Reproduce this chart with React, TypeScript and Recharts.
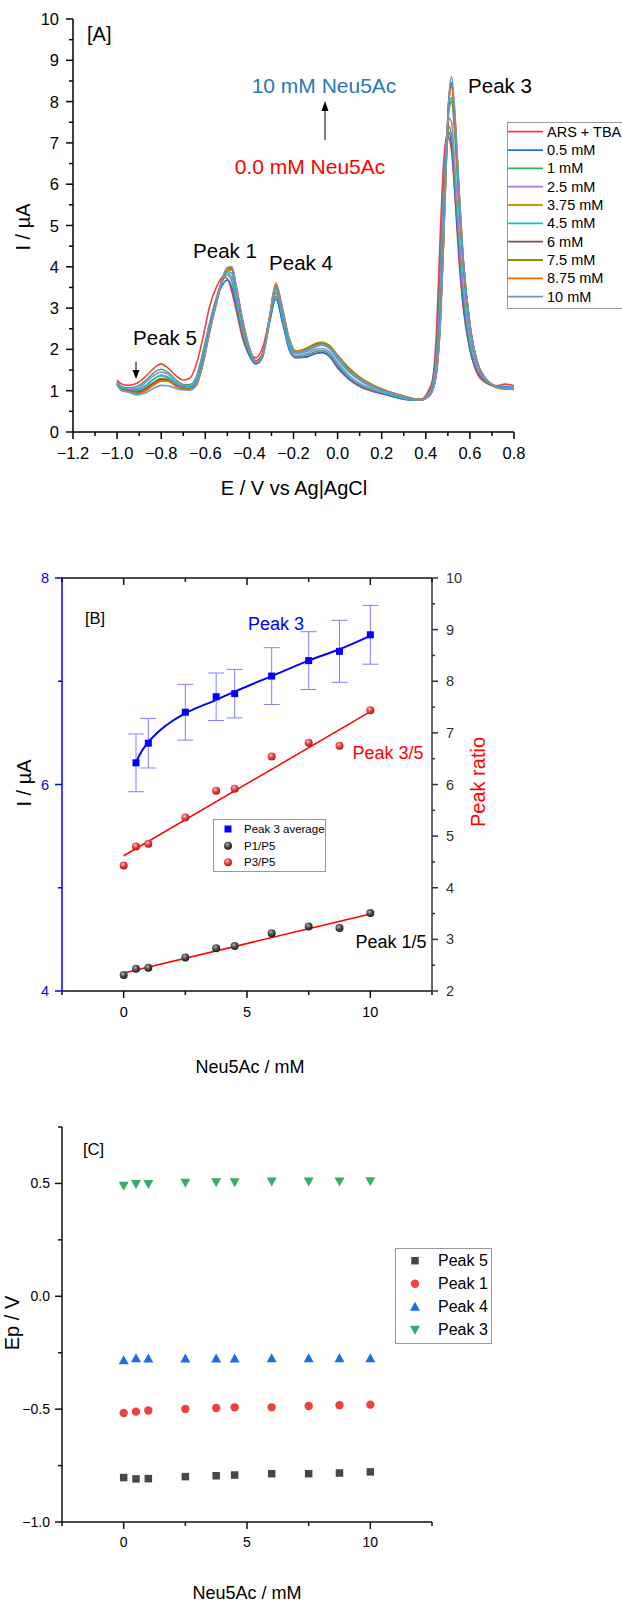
import React from "react";
import { LineChart, ComposedChart, Line, Scatter, XAxis, YAxis, ErrorBar } from "recharts";

const FONT = "'Liberation Sans', Arial, Helvetica, sans-serif";

// ---------- [A] DPV curves (I / uA vs E / V) ----------
const E_V = [
  -1.0, -0.98, -0.95, -0.91, -0.87, -0.83, -0.8, -0.77, -0.73, -0.7,
  -0.67, -0.64, -0.61, -0.58, -0.55, -0.52, -0.5, -0.48, -0.46, -0.43,
  -0.4, -0.37, -0.34, -0.31, -0.28, -0.25, -0.22, -0.19, -0.14, -0.1,
  -0.07, -0.04, 0.0, 0.05, 0.1, 0.16, 0.22, 0.28, 0.34, 0.38,
  0.41, 0.43, 0.45, 0.465, 0.48, 0.495, 0.505, 0.517, 0.53, 0.55,
  0.57, 0.6, 0.63, 0.67, 0.72, 0.76, 0.8,
];

const I_ARS = [
  1.26, 1.16, 1.13, 1.18, 1.35, 1.56, 1.65, 1.55, 1.35, 1.26,
  1.3, 1.65, 2.3, 3.05, 3.5, 3.75, 3.72, 3.4, 2.95, 2.25,
  1.88, 1.8, 2.05, 2.7, 3.28, 2.7, 2.05, 1.8, 1.82, 1.9,
  1.93, 1.85, 1.55, 1.28, 1.1, 0.98, 0.9, 0.82, 0.78, 0.8,
  0.98, 1.25, 2.6, 4.7, 6.45, 7.18, 7.1, 6.8, 5.9, 4.2,
  3.0, 2.0, 1.45, 1.2, 1.12, 1.16, 1.12,
];
const I_05 = [
  1.2, 1.08, 1.04, 1.02, 1.12, 1.3, 1.37, 1.32, 1.17, 1.1,
  1.1, 1.3, 1.9, 2.6, 3.2, 3.58, 3.68, 3.5, 3.05, 2.35,
  1.85, 1.65, 1.82, 2.6, 3.22, 2.65, 2.0, 1.8, 1.82, 1.9,
  1.92, 1.85, 1.58, 1.3, 1.12, 1.0, 0.9, 0.82, 0.77, 0.78,
  0.9, 1.2, 2.1, 3.8, 5.8, 7.0, 7.25, 6.95, 6.0, 4.4,
  3.1, 2.0, 1.5, 1.22, 1.1, 1.1, 1.08,
];
const I_1 = [
  1.22, 1.1, 1.07, 1.1, 1.25, 1.45, 1.52, 1.45, 1.25, 1.15,
  1.15, 1.35, 1.95, 2.65, 3.25, 3.68, 3.8, 3.65, 3.15, 2.4,
  1.9, 1.7, 1.88, 2.65, 3.35, 2.75, 2.05, 1.82, 1.86, 1.95,
  1.97, 1.9, 1.62, 1.33, 1.14, 1.01, 0.92, 0.84, 0.78, 0.79,
  0.9, 1.15, 2.0, 3.6, 5.7, 7.0, 7.4, 7.15, 6.2, 4.6,
  3.3, 2.1, 1.55, 1.25, 1.1, 1.08, 1.07,
];
const I_25 = [
  1.2, 1.08, 1.04, 1.05, 1.2, 1.38, 1.45, 1.4, 1.2, 1.12,
  1.12, 1.3, 1.88, 2.6, 3.2, 3.7, 3.85, 3.75, 3.25, 2.5,
  1.95, 1.72, 1.9, 2.7, 3.4, 2.8, 2.1, 1.85, 1.9, 2.0,
  2.02, 1.95, 1.68, 1.38, 1.18, 1.04, 0.94, 0.85, 0.79, 0.79,
  0.88, 1.1, 1.85, 3.3, 5.4, 7.0, 7.6, 7.5, 6.6, 4.9,
  3.5, 2.25, 1.6, 1.27, 1.1, 1.08, 1.07,
];
const I_375 = [
  1.17, 1.04, 1.0, 0.97, 1.07, 1.22, 1.3, 1.28, 1.12, 1.06,
  1.05, 1.2, 1.75, 2.5, 3.15, 3.72, 3.92, 3.92, 3.45, 2.62,
  2.0, 1.7, 1.88, 2.7, 3.5, 2.9, 2.2, 1.92, 1.98, 2.1,
  2.14, 2.07, 1.8, 1.5, 1.28, 1.1, 0.98, 0.88, 0.8, 0.78,
  0.86, 1.02, 1.55, 2.7, 4.7, 7.0, 8.1, 8.45, 7.7, 5.8,
  4.1, 2.55, 1.75, 1.3, 1.1, 1.06, 1.05,
];
const I_45 = [
  1.18, 1.06, 1.02, 1.0, 1.12, 1.3, 1.37, 1.33, 1.16, 1.08,
  1.08, 1.24, 1.8, 2.55, 3.18, 3.7, 3.88, 3.85, 3.38, 2.58,
  1.98, 1.7, 1.88, 2.7, 3.45, 2.85, 2.15, 1.9, 1.95, 2.06,
  2.1, 2.03, 1.76, 1.46, 1.25, 1.08, 0.96, 0.86, 0.79, 0.78,
  0.86, 1.04, 1.65, 2.9, 5.0, 7.0, 7.9, 8.1, 7.35, 5.5,
  3.9, 2.45, 1.7, 1.3, 1.1, 1.07, 1.06,
];
const I_6 = [
  1.16, 1.03, 1.0, 0.96, 1.05, 1.2, 1.28, 1.26, 1.12, 1.06,
  1.04, 1.18, 1.72, 2.48, 3.15, 3.75, 3.97, 3.98, 3.5, 2.65,
  2.02, 1.72, 1.9, 2.72, 3.55, 2.95, 2.25, 1.95, 2.02, 2.13,
  2.16, 2.1, 1.85, 1.55, 1.32, 1.13, 1.0, 0.9, 0.81, 0.78,
  0.85, 1.0, 1.52, 2.6, 4.6, 6.95, 8.1, 8.45, 7.75, 5.9,
  4.15, 2.6, 1.75, 1.3, 1.1, 1.05, 1.04,
];
const I_75 = [
  1.15, 1.02, 0.98, 0.94, 1.02, 1.17, 1.25, 1.24, 1.1, 1.05,
  1.03, 1.15, 1.68, 2.45, 3.12, 3.72, 3.95, 3.95, 3.5, 2.65,
  2.02, 1.7, 1.88, 2.7, 3.5, 2.95, 2.25, 1.96, 2.03, 2.14,
  2.17, 2.1, 1.86, 1.56, 1.33, 1.14, 1.0, 0.9, 0.81, 0.78,
  0.85, 1.0, 1.55, 2.65, 4.6, 6.8, 7.8, 8.0, 7.4, 5.7,
  4.1, 2.6, 1.75, 1.3, 1.08, 1.04, 1.03,
];
const I_875 = [
  1.15, 1.02, 0.98, 0.93, 1.0, 1.15, 1.23, 1.23, 1.1, 1.04,
  1.02, 1.13, 1.66, 2.42, 3.1, 3.72, 3.97, 4.0, 3.55, 2.7,
  2.05, 1.72, 1.9, 2.75, 3.6, 3.0, 2.28, 1.95, 2.0, 2.1,
  2.13, 2.07, 1.84, 1.52, 1.3, 1.12, 0.99, 0.89, 0.8, 0.78,
  0.85, 1.0, 1.5, 2.55, 4.5, 6.85, 8.0, 8.35, 7.7, 5.9,
  4.15, 2.6, 1.75, 1.3, 1.08, 1.04, 1.04,
];
const I_10 = [
  1.15, 1.0, 0.97, 0.9, 0.95, 1.07, 1.13, 1.12, 1.05, 1.02,
  1.02, 1.18, 1.7, 2.45, 3.15, 3.75, 3.98, 4.0, 3.5, 2.68,
  2.02, 1.68, 1.85, 2.7, 3.55, 2.95, 2.25, 1.92, 1.98, 2.08,
  2.12, 2.05, 1.82, 1.5, 1.28, 1.1, 0.98, 0.88, 0.8, 0.78,
  0.85, 1.0, 1.5, 2.5, 4.5, 6.9, 8.1, 8.6, 7.9, 6.0,
  4.2, 2.6, 1.75, 1.3, 1.1, 1.05, 1.05,
];

const CURVES = [I_ARS, I_05, I_1, I_25, I_375, I_45, I_6, I_75, I_875, I_10];
const CURVE_NAMES = ["ARS + TBA", "0.5 mM", "1 mM", "2.5 mM", "3.75 mM", "4.5 mM", "6 mM", "7.5 mM", "8.75 mM", "10 mM"];
const CURVE_COLORS = ["#F14040", "#1A6FDF", "#37AD6B", "#B177DE", "#CC9900", "#00CBCC", "#7D4E4E", "#8E8E00", "#FB6501", "#6699CC"];

const A_XTICKS = [-1.2, -1.1, -1.0, -0.9, -0.8, -0.7, -0.6, -0.5, -0.4, -0.3, -0.2, -0.1, 0, 0.1, 0.2, 0.3, 0.4, 0.5, 0.6, 0.7, 0.8];
const A_YTICKS = [0, 0.5, 1, 1.5, 2, 2.5, 3, 3.5, 4, 4.5, 5, 5.5, 6, 6.5, 7, 7.5, 8, 8.5, 9, 9.5, 10];

// ---------- [B] peak currents and ratios ----------
const CONC = [0, 0.5, 1, 2.5, 3.75, 4.5, 6, 7.5, 8.75, 10];
const P3_CONC = [0.5, 1, 2.5, 3.75, 4.5, 6, 7.5, 8.75, 10];
const P3_AVG = [6.21, 6.4, 6.7, 6.85, 6.88, 7.05, 7.2, 7.29, 7.45];
const P3_ERR = [0.28, 0.24, 0.27, 0.23, 0.235, 0.275, 0.28, 0.3, 0.285];
const P1_P5 = [2.31, 2.43, 2.45, 2.65, 2.83, 2.87, 3.12, 3.25, 3.22, 3.51];
const P3_P5 = [4.43, 4.8, 4.85, 5.36, 5.88, 5.92, 6.54, 6.81, 6.75, 7.44];
const P3_FIT_X = [0.5, 0.75, 1, 1.5, 2, 2.5, 3.75, 4.5, 6, 7.5, 8.75, 10];
const P3_FIT_Y = [6.22, 6.33, 6.41, 6.53, 6.62, 6.69, 6.82, 6.9, 7.05, 7.2, 7.31, 7.44];
const FIT_X = [0, 10];
const P35_FIT = [4.62, 7.41];
const P15_FIT = [2.35, 3.49];

const B_XTICKS = [-2.5, 0, 2.5, 5, 7.5, 10, 12.5];
const B_LTICKS = [4, 5, 6, 7, 8];
const B_RTICKS = [2, 2.5, 3, 3.5, 4, 4.5, 5, 5.5, 6, 6.5, 7, 7.5, 8, 8.5, 9, 9.5, 10];

// ---------- [C] peak potentials ----------
const EP_PEAK5 = [-0.803, -0.809, -0.808, -0.799, -0.795, -0.792, -0.786, -0.786, -0.783, -0.778];
const EP_PEAK1 = [-0.517, -0.511, -0.506, -0.499, -0.495, -0.492, -0.492, -0.486, -0.483, -0.48];
const EP_PEAK4 = [-0.283, -0.274, -0.276, -0.276, -0.276, -0.276, -0.275, -0.275, -0.275, -0.274];
const EP_PEAK3 = [0.49, 0.497, 0.498, 0.503, 0.505, 0.505, 0.508, 0.508, 0.509, 0.51];
const C_YTICKS = [-1, -0.75, -0.5, -0.25, 0, 0.25, 0.5, 0.75];

// table for recharts
const dpvRows = E_V.map((e, i) => {
  const r: any = { e };
  CURVES.forEach((c, k) => { r["c" + k] = c[i]; });
  return r;
});
const pts = (xs: number[], ys: number[]) => xs.map((x, i) => ({ x, y: ys[i] }));
const p3Rows = P3_CONC.map((x, i) => ({ x, y: P3_AVG[i], err: P3_ERR[i] }));

const minus = (v: number, d: number) => (v < 0 ? "\u2212" : "") + Math.abs(v).toFixed(d);

interface TickSpec {
  side: "bottom" | "top" | "left" | "right";
  isMajor: (v: number) => boolean;
  label?: (v: number) => string;
  major: number;
  minor: number;
  inward?: boolean;
  stroke: string;
  fill?: string;
  size?: number;
  gap?: number;
}

function tickRenderer(s: TickSpec) {
  return (p: any) => {
    const { x, y, payload } = p;
    const v = payload.value;
    const big = s.isMajor(v);
    const len = big ? s.major : s.minor;
    const d = s.inward ? -1 : 1;
    const g = s.gap || 0;
    let x2 = x, y2 = y, tx = x, ty = y;
    let anchor: any = "middle";
    if (s.side === "bottom") { y2 = y + d * len; ty = y + g; }
    if (s.side === "top") { y2 = y - d * len; ty = y - g; }
    if (s.side === "left") { x2 = x - d * len; tx = x - g; anchor = "end"; }
    if (s.side === "right") { x2 = x + d * len; tx = x + g; anchor = "start"; }
    return (
      <g>
        <line x1={x} y1={y} x2={x2} y2={y2} stroke={s.stroke} strokeWidth={1.5} />
        {big && s.label ? (
          <text x={tx} y={ty} textAnchor={anchor} dominantBaseline="central"
            fontSize={s.size} fill={s.fill || "#000"} fontFamily={FONT}>
            {s.label(v)}
          </text>
        ) : null}
      </g>
    );
  };
}

const near = (v: number, step: number) => Math.abs(v / step - Math.round(v / step)) < 1e-6;

// marker shapes
const squareShape = (color: string, s: number) => (p: any) =>
  <rect x={p.cx - s / 2} y={p.cy - s / 2} width={s} height={s} fill={color} />;
const circleShape = (color: string, r: number) => (p: any) =>
  <circle cx={p.cx} cy={p.cy} r={r} fill={color} />;
const triUpShape = (color: string, w: number) => (p: any) =>
  <polygon points={`${p.cx - w / 2},${p.cy + w * 0.4} ${p.cx + w / 2},${p.cy + w * 0.4} ${p.cx},${p.cy - w * 0.5}`} fill={color} />;
const triDownShape = (color: string, w: number) => (p: any) =>
  <polygon points={`${p.cx - w / 2},${p.cy - w * 0.4} ${p.cx + w / 2},${p.cy - w * 0.4} ${p.cx},${p.cy + w * 0.5}`} fill={color} />;
const sphereShape = (id: string, r: number) => (p: any) =>
  <circle cx={p.cx} cy={p.cy} r={r} fill={`url(#${id})`} />;

const C_COLORS = { p5: "#474747", p1: "#F14040", p4: "#1A6FDF", p3: "#37AD6B" };

function PanelA() {
  return (
    <LineChart width={622} height={540} data={dpvRows} margin={{ top: 19, right: 108, bottom: 78, left: 13 }}>
      <XAxis dataKey="e" type="number" domain={[-1.2, 0.8]} ticks={A_XTICKS} interval={0} allowDataOverflow
        height={30} tickSize={0} tickMargin={0} tickLine={false}
        axisLine={{ stroke: "#000", strokeWidth: 1.5 }}
        tick={tickRenderer({ side: "bottom", isMajor: (v) => near(v, 0.2), label: (v) => minus(v, 1), major: 7, minor: 4, stroke: "#000", size: 16.5, gap: 21 })} />
      <YAxis type="number" domain={[0, 10]} ticks={A_YTICKS} interval={0} allowDataOverflow
        width={60} tickSize={0} tickMargin={0} tickLine={false}
        axisLine={{ stroke: "#000", strokeWidth: 1.5 }}
        tick={tickRenderer({ side: "left", isMajor: (v) => near(v, 1), label: (v) => String(v), major: 7, minor: 4, stroke: "#000", size: 16.5, gap: 14 })} />
      {CURVES.map((_, k) => (
        <Line key={k} dataKey={"c" + k} type="monotone" stroke={CURVE_COLORS[k]} strokeWidth={1.6}
          dot={false} isAnimationActive={false} />
      ))}
    </LineChart>
  );
}

function PanelB() {
  return (
    <ComposedChart width={622} height={540} margin={{ top: 37, right: 140, bottom: 59, left: 12 }}>
      <XAxis xAxisId="b" dataKey="x" type="number" domain={[-2.5, 12.5]} ticks={B_XTICKS} interval={0} allowDataOverflow
        height={30} tickSize={0} tickMargin={0} tickLine={false}
        axisLine={{ stroke: "#111", strokeWidth: 1.5 }}
        tick={tickRenderer({ side: "bottom", isMajor: (v) => near(v, 5), label: (v) => String(v), major: 7, minor: 4, stroke: "#111", size: 14.5, gap: 21 })} />
      <XAxis xAxisId="t" orientation="top" dataKey="x" type="number" domain={[-2.5, 12.5]} ticks={B_XTICKS} interval={0} allowDataOverflow
        height={1} tickSize={0} tickMargin={0} tickLine={false}
        axisLine={{ stroke: "#111", strokeWidth: 1.5 }}
        tick={tickRenderer({ side: "top", inward: true, isMajor: (v) => near(v, 5), major: 7, minor: 4, stroke: "#111" })} />
      <YAxis yAxisId="l" type="number" domain={[4, 8]} ticks={B_LTICKS} interval={0} allowDataOverflow
        width={50} tickSize={0} tickMargin={0} tickLine={false}
        axisLine={{ stroke: "#0000FF", strokeWidth: 1.5 }}
        tick={tickRenderer({ side: "left", isMajor: (v) => near(v, 2), label: (v) => String(v), major: 7, minor: 4, stroke: "#0000FF", fill: "#0000FF", size: 14.5, gap: 13 })} />
      <YAxis yAxisId="r" orientation="right" type="number" domain={[2, 10]} ticks={B_RTICKS} interval={0} allowDataOverflow
        width={50} tickSize={0} tickMargin={0} tickLine={false}
        axisLine={{ stroke: "#333", strokeWidth: 1.5 }}
        tick={tickRenderer({ side: "right", isMajor: (v) => near(v, 1), label: (v) => String(v), major: 6, minor: 3, stroke: "#333", fill: "#333", size: 14.5, gap: 14 })} />
      <Line xAxisId="b" yAxisId="r" data={pts(FIT_X, P35_FIT)} dataKey="y" type="linear" stroke="#FF0000" strokeWidth={1.5} dot={false} isAnimationActive={false} />
      <Line xAxisId="b" yAxisId="r" data={pts(FIT_X, P15_FIT)} dataKey="y" type="linear" stroke="#FF0000" strokeWidth={1.5} dot={false} isAnimationActive={false} />
      <Line xAxisId="b" yAxisId="l" data={pts(P3_FIT_X, P3_FIT_Y)} dataKey="y" type="monotone" stroke="#0000FF" strokeWidth={2} dot={false} isAnimationActive={false} />
      <Scatter xAxisId="b" yAxisId="l" data={p3Rows} dataKey="y" shape={squareShape("#0000FF", 7)} isAnimationActive={false}>
        <ErrorBar dataKey="err" direction="y" width={8} stroke="#8080FF" strokeWidth={1} />
      </Scatter>
      <Scatter xAxisId="b" yAxisId="r" data={pts(CONC, P1_P5)} dataKey="y" shape={sphereShape("sphBlack", 4)} isAnimationActive={false} />
      <Scatter xAxisId="b" yAxisId="r" data={pts(CONC, P3_P5)} dataKey="y" shape={sphereShape("sphRed", 4)} isAnimationActive={false} />
    </ComposedChart>
  );
}

function PanelC() {
  return (
    <ComposedChart width={622} height={526} margin={{ top: 47, right: 190, bottom: 54, left: 12 }}>
      <XAxis dataKey="x" type="number" domain={[-2.5, 12.5]} ticks={B_XTICKS} interval={0} allowDataOverflow
        height={30} tickSize={0} tickMargin={0} tickLine={false}
        axisLine={{ stroke: "#111", strokeWidth: 1.5 }}
        tick={tickRenderer({ side: "bottom", isMajor: (v) => near(v, 5), label: (v) => String(v), major: 7, minor: 4, stroke: "#111", size: 14, gap: 20 })} />
      <YAxis type="number" domain={[-1, 0.75]} ticks={C_YTICKS} interval={0} allowDataOverflow
        width={50} tickSize={0} tickMargin={0} tickLine={false}
        axisLine={{ stroke: "#111", strokeWidth: 1.5 }}
        tick={tickRenderer({ side: "left", isMajor: (v) => near(v, 0.5), label: (v) => minus(v, 1), major: 7, minor: 4, stroke: "#111", size: 14, gap: 12 })} />
      <Scatter data={pts(CONC, EP_PEAK5)} dataKey="y" shape={squareShape(C_COLORS.p5, 7.5)} isAnimationActive={false} />
      <Scatter data={pts(CONC, EP_PEAK1)} dataKey="y" shape={circleShape(C_COLORS.p1, 4.2)} isAnimationActive={false} />
      <Scatter data={pts(CONC, EP_PEAK4)} dataKey="y" shape={triUpShape(C_COLORS.p4, 10)} isAnimationActive={false} />
      <Scatter data={pts(CONC, EP_PEAK3)} dataKey="y" shape={triDownShape(C_COLORS.p3, 10)} isAnimationActive={false} />
    </ComposedChart>
  );
}

function T(props: any) {
  const { x, y, children, size = 18, fill = "#000", anchor = "middle", rotate } = props;
  return (
    <text x={x} y={y} fontSize={size} fill={fill} textAnchor={anchor} dominantBaseline="central"
      fontFamily={FONT} transform={rotate ? `rotate(${rotate} ${x} ${y})` : undefined}>
      {children}
    </text>
  );
}

function Overlay() {
  const legendA = CURVE_NAMES.map((n, k) => {
    const y = 131.7 + k * 18.33;
    return (
      <g key={n}>
        <line x1={508} x2={543} y1={y} y2={y} stroke={CURVE_COLORS[k]} strokeWidth={1.8} />
        <T x={547} y={y} size={14.5} anchor="start">{n}</T>
      </g>
    );
  });
  const legendC = [
    { n: "Peak 5", s: squareShape(C_COLORS.p5, 7.5) },
    { n: "Peak 1", s: circleShape(C_COLORS.p1, 4.2) },
    { n: "Peak 4", s: triUpShape(C_COLORS.p4, 10) },
    { n: "Peak 3", s: triDownShape(C_COLORS.p3, 10) },
  ];
  return (
    <svg width={622} height={1606} style={{ position: "absolute", left: 0, top: 0, pointerEvents: "none" }}>
      <defs>
        <radialGradient id="sphBlack" cx="0.4" cy="0.35" r="0.65">
          <stop offset="0" stopColor="#b5b5b5" />
          <stop offset="0.45" stopColor="#555" />
          <stop offset="1" stopColor="#1a1a1a" />
        </radialGradient>
        <radialGradient id="sphRed" cx="0.4" cy="0.35" r="0.65">
          <stop offset="0" stopColor="#ffc8c8" />
          <stop offset="0.45" stopColor="#f24848" />
          <stop offset="1" stopColor="#b01010" />
        </radialGradient>
      </defs>

      {/* [A] */}
      <T x={87} y={34} size={20} anchor="start">[A]</T>
      <T x={324} y={85} size={21} fill="#2878B8">10 mM Neu5Ac</T>
      <line x1={325} x2={325} y1={140} y2={108} stroke="#000" strokeWidth={1} />
      <polygon points="325,101 321.5,111 328.5,111" fill="#000" />
      <T x={310} y={166} size={21} fill="#FF0000">0.0 mM Neu5Ac</T>
      <T x={225} y={250} size={20.5}>Peak 1</T>
      <T x={301} y={262} size={20.5}>Peak 4</T>
      <T x={500} y={85} size={20.5}>Peak 3</T>
      <T x={165} y={337} size={20.5}>Peak 5</T>
      <line x1={136} x2={136} y1={362} y2={372} stroke="#000" strokeWidth={1} />
      <polygon points="136,379 132.5,370 139.5,370" fill="#000" />
      <T x={23} y={227} size={20} rotate={-90}>I / µA</T>
      <T x={294} y={488} size={20}>E / V vs Ag|AgCl</T>
      <rect x={507.5} y={122.5} width={140} height={186} fill="#fff" stroke="#999" strokeWidth={1} />
      {legendA}

      {/* [B] */}
      <T x={85} y={618} size={16.5} anchor="start">[B]</T>
      <T x={276} y={624} size={18} fill="#0000FF">Peak 3</T>
      <T x={388} y={753} size={18} fill="#FF0000">Peak 3/5</T>
      <T x={391} y={942} size={18}>Peak 1/5</T>
      <T x={24} y={783} size={20} rotate={-90}>I / µA</T>
      <T x={478} y={782} size={20} fill="#FF0000" rotate={-90}>Peak ratio</T>
      <T x={250} y={1067} size={18}>Neu5Ac / mM</T>
      <rect x={213.5} y={819.5} width={112} height={52} fill="#fff" stroke="#999" strokeWidth={1} />
      {squareShape("#0000FF", 7)({ cx: 228, cy: 829 })}
      {sphereShape("sphBlack", 4)({ cx: 228, cy: 845.7 })}
      {sphereShape("sphRed", 4)({ cx: 228, cy: 862.3 })}
      <T x={244} y={829} size={11.5} anchor="start">Peak 3 average</T>
      <T x={244} y={845.7} size={11.5} anchor="start">P1/P5</T>
      <T x={244} y={862.3} size={11.5} anchor="start">P3/P5</T>

      {/* [C] */}
      <T x={83} y={1149} size={16.5} anchor="start">[C]</T>
      <T x={12} y={1323} size={20} rotate={-90}>Ep / V</T>
      <T x={247} y={1593} size={18}>Neu5Ac / mM</T>
      <rect x={395.5} y={1248.5} width={96} height={95} fill="#fff" stroke="#999" strokeWidth={1} />
      {legendC.map((l, k) => {
        const y = 1260.7 + k * 23;
        return (
          <g key={l.n}>
            {l.s({ cx: 415, cy: y })}
            <T x={438} y={y} size={16} anchor="start">{l.n}</T>
          </g>
        );
      })}
    </svg>
  );
}

export default function App() {
  return (
    <div style={{ position: "absolute", left: 0, top: 0, width: 622, height: 1606, background: "#fff", overflow: "hidden", fontFamily: FONT }}>
      <div style={{ position: "absolute", left: 0, top: 0 }}><PanelA /></div>
      <div style={{ position: "absolute", left: 0, top: 540 }}><PanelB /></div>
      <div style={{ position: "absolute", left: 0, top: 1080 }}><PanelC /></div>
      <Overlay />
    </div>
  );
}
